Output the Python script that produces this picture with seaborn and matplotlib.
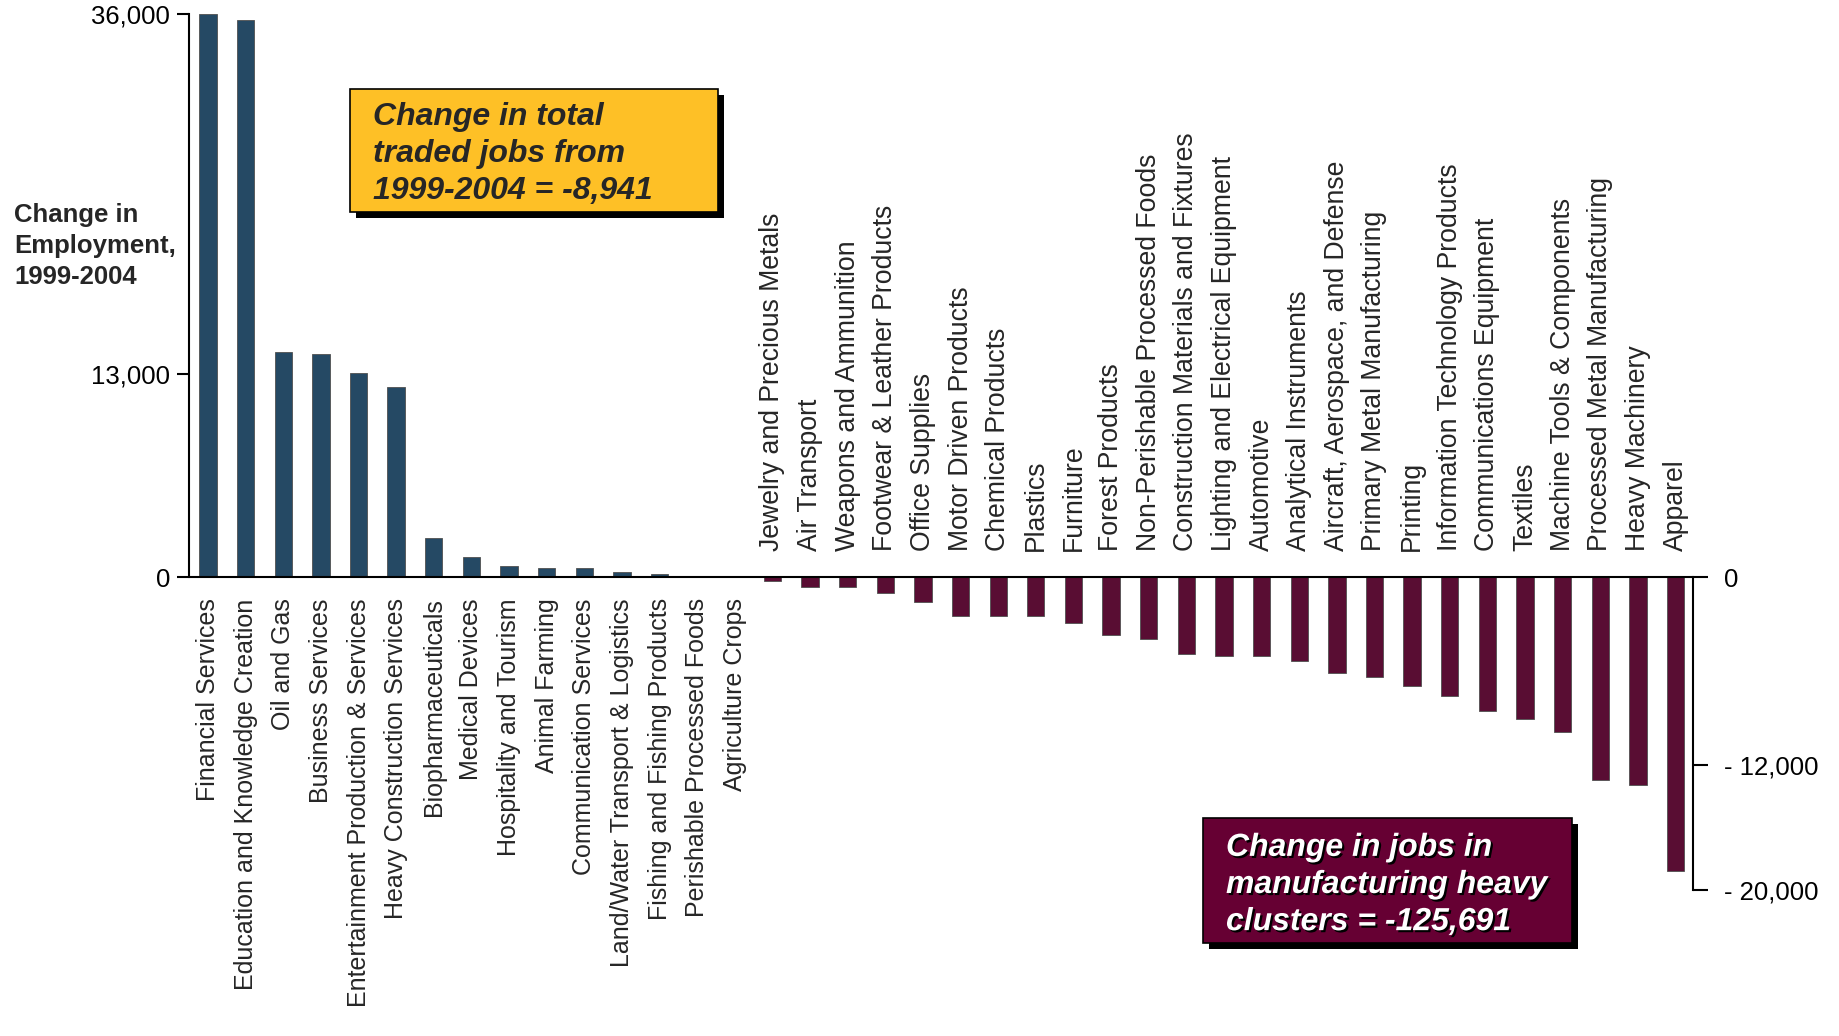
import matplotlib
matplotlib.use('Agg')
import matplotlib.pyplot as plt
import matplotlib.transforms as mtransforms
import matplotlib.patheffects as pe
from matplotlib.patches import Rectangle
import seaborn as sns
import pandas as pd

# ---------------- data ----------------
gaining_clusters = [
    "Financial Services", "Education and Knowledge Creation", "Oil and Gas",
    "Business Services", "Entertainment Production & Services",
    "Heavy Construction Services", "Biopharmaceuticals", "Medical Devices",
    "Hospitality and Tourism", "Animal Farming", "Communication Services",
    "Land/Water Transport & Logistics", "Fishing and Fishing Products",
    "Perishable Processed Foods", "Agriculture Crops",
]
gaining_change = [36000, 35600, 14380, 14250, 13030, 12190, 2540, 1320,
                  706, 600, 600, 365, 235, 0, 0]

losing_clusters = [
    "Jewelry and Precious Metals", "Air Transport", "Weapons and Ammunition",
    "Footwear & Leather Products", "Office Supplies", "Motor Driven Products",
    "Chemical Products", "Plastics", "Furniture", "Forest Products",
    "Non-Perishable Processed Foods", "Construction Materials and Fixtures",
    "Lighting and Electrical Equipment", "Automotive", "Analytical Instruments",
    "Aircraft, Aerospace, and Defense", "Primary Metal Manufacturing", "Printing",
    "Information Technology Products", "Communications Equipment", "Textiles",
    "Machine Tools & Components", "Processed Metal Manufacturing",
    "Heavy Machinery", "Apparel",
]
losing_change = [-256, -640, -640, -1000, -1600, -2480, -2480, -2480, -2950,
                 -3690, -3950, -4910, -5020, -5020, -5380, -6130, -6360, -6980,
                 -7580, -8560, -9050, -9900, -12940, -13300, -18780]

left_ticks = [0, 13000, 36000]
left_tick_labels = ["0", "13,000", "36,000"]
right_ticks = [0, -12000, -20000]
right_tick_labels = ["0", "- 12,000", "- 20,000"]

y_label = "Change in\nEmployment,\n1999-2004"
traded_note = "Change in total\ntraded jobs from\n1999-2004 = -8,941"
manuf_note = "Change in jobs in\nmanufacturing heavy\nclusters = -125,691"

BLUE = "#1B4A6E"
MAROON = "#660033"
GOLD = "#FEC026"

# ---------------- style ----------------
sns.set_style("white")
plt.rcParams['font.family'] = ['Liberation Sans', 'DejaVu Sans']

clusters = gaining_clusters + losing_clusters
changes = gaining_change + losing_change
groups = ["gain"] * len(gaining_clusters) + ["loss"] * len(losing_clusters)
df = pd.DataFrame({"cluster": clusters, "change": changes, "group": groups})

W, H = 1839, 1036
fig = plt.figure(figsize=(W / 100, H / 100), dpi=100)
ax_left, ax_right = 189, 1693
ax_top, ax_bot = 14, 890.2
ax = fig.add_axes([ax_left / W, 1 - ax_bot / H, (ax_right - ax_left) / W, (ax_bot - ax_top) / H])

sns.barplot(data=df, x="cluster", y="change", hue="group", order=clusters,
            palette={"gain": BLUE, "loss": MAROON}, dodge=False, width=0.46,
            errorbar=None, legend=False, edgecolor="#505050", linewidth=0.6, ax=ax)

n = len(clusters)
ax.set_xlim(-0.505, n - 1 + 0.465)
ax.set_ylim(-20000, 36000)
ax.set_xticks([])
ax.set_xlabel("")
ax.set_ylabel("")
for s in ["top", "bottom", "right"]:
    ax.spines[s].set_visible(False)
ax.spines["left"].set_bounds(0, 36000)
ax.spines["left"].set_linewidth(1.5)
ax.spines["left"].set_color("black")
ax.set_yticks(left_ticks, left_tick_labels)
ax.tick_params(axis="y", direction="out", length=9, width=1.5, pad=4.5,
               labelsize=18.5, colors="black", left=True)

ax.axhline(0, color="black", lw=1.5, zorder=5)

ax2 = ax.twinx()
ax2.set_ylim(ax.get_ylim())
for s in ["top", "bottom", "left"]:
    ax2.spines[s].set_visible(False)
ax2.spines["right"].set_bounds(-20000, 0)
ax2.spines["right"].set_linewidth(1.5)
ax2.spines["right"].set_color("black")
ax2.set_yticks(right_ticks, right_tick_labels)
ax2.tick_params(axis="y", direction="out", length=11, width=1.5, pad=11,
                labelsize=18.5, colors="black", right=True)

# category labels
trans_below = mtransforms.offset_copy(ax.transData, fig=fig, y=-21, units="dots")
trans_above = mtransforms.offset_copy(ax.transData, fig=fig, y=26, units="dots")
for i, name in enumerate(gaining_clusters):
    ax.text(i, 0, name, rotation=90, ha="center", va="top", fontsize=18,
            transform=trans_below)
for j, name in enumerate(losing_clusters):
    ax.text(len(gaining_clusters) + j, 0, name, rotation=90, ha="center",
            va="bottom", fontsize=19.2, transform=trans_above)

# y-axis title
fig.text(14 / W, 1 - 246 / H, y_label, ha="left", va="center", fontsize=18.5,
         fontweight="bold", linespacing=1.37)


def note_box(x0, y0, x1, y1, face):
    sh = 6
    fig.add_artist(Rectangle(((x0 + sh) / W, 1 - (y1 + sh) / H), (x1 - x0) / W,
                             (y1 - y0) / H, transform=fig.transFigure,
                             facecolor="black", edgecolor="none", zorder=10))
    fig.add_artist(Rectangle((x0 / W, 1 - y1 / H), (x1 - x0) / W, (y1 - y0) / H,
                             transform=fig.transFigure, facecolor=face,
                             edgecolor="black", lw=1.2, zorder=11))


note_box(350, 89, 718, 212, GOLD)
fig.text(373 / W, 1 - 154 / H, traded_note, ha="left", va="center", fontsize=23,
         fontweight="bold", fontstyle="italic", linespacing=1.31, zorder=12)

note_box(1203, 818, 1572, 943, MAROON)
fig.text(1226 / W, 1 - 885 / H, manuf_note, ha="left", va="center", fontsize=23,
         fontweight="bold", fontstyle="italic", linespacing=1.31, color="white",
         zorder=12,
         path_effects=[pe.withSimplePatchShadow(offset=(1.5, -1.5),
                                                shadow_rgbFace="black", alpha=1.0)])

fig.savefig("out.png", dpi=100)
